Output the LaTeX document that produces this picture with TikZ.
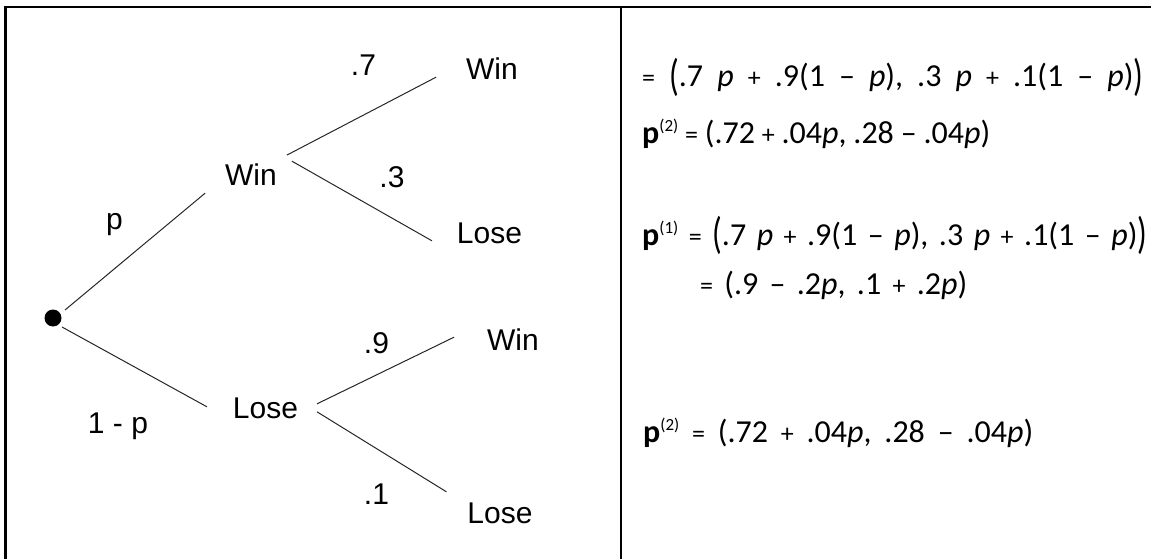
\documentclass[tikz,border=0pt]{standalone}
\usepackage{fontspec}
\usepackage{graphicx}
\setmainfont{Liberation Sans}
\newfontfamily\eqfont{Carlito}
\usetikzlibrary{calc}
\newcommand{\bigparen}[1]{\raisebox{-0.12em}{\scalebox{1}[1.38]{#1}}}
\newcommand{\vp}{\textit{p}}
\newcommand{\bp}{\textbf{p}}
\newcommand{\sups}[1]{\raisebox{12pt}{\fontsize{17}{20}\selectfont(#1)}}
\newcommand{\op}[1]{{\fontsize{26}{30}\selectfont #1}}
\newcommand{\gp}{\hskip 3pt plus 1fil\relax}
\begin{document}
\begin{tikzpicture}[x=1pt,y=-1pt,
  lbl/.style={font=\fontsize{30}{36}\selectfont, inner sep=0pt, outer sep=0pt, anchor=base},
  branch/.style={line width=1pt, black!85},
  eq/.style={font=\eqfont\fontsize{32}{38}\selectfont, inner sep=0pt, anchor=base west},
  rulew/.style={line width=2.4pt},
  dot/.style={circle, fill=black, minimum size=17pt, inner sep=0pt}]
\useasboundingbox (0,0) rectangle (1151,559);
\draw[rulew] (5.5,559) -- (5.5,7) -- (1151,7);
\draw[rulew] (621,7) -- (621,559);

% tree nodes
\node[dot] (root) at (53,318) {};
\node[lbl] (w1) at (251,185) {Win};
\node[lbl] (l1) at (265.5,418) {Lose};
\node[lbl] (ww) at (492,80) {Win};
\node[lbl] (wl) at (489.5,243) {Lose};
\node[lbl] (lw) at (513,350) {Win};
\node[lbl] (ll) at (500,523) {Lose};

% branches
\draw[branch] ($(root)+(12,-8)$) -- ($(w1.west)+(-20,19)$);
\draw[branch] ($(root)+(9,9)$) -- ($(l1.west)+(-26,-1)$);
\draw[branch] ($(w1.east)+(10,-19)$) -- ($(ww.west)+(-30,8)$);
\draw[branch] ($(w1.east)+(15,-13)$) -- ($(wl.west)+(-25,8)$);
\draw[branch] ($(l1.east)+(19,-4)$) -- ($(lw.west)+(-33,-2)$);
\draw[branch] ($(l1.east)+(19,4)$) -- ($(ll.west)+(-21,-21)$);

% branch labels
\node[lbl] (lp) at (114.5,229) {p};
\node[lbl] (lq) at (118,433.5) {1 - p};
\node[lbl] (l7) at (363.5,76) {.7};
\node[lbl] (l3) at (392,187) {.3};
\node[lbl] (l9) at (376.5,353) {.9};
\node[lbl] (l1b) at (376.5,504) {.1};

% equations
\node[eq] (e1) at (642,87) {\hbox to 501pt{\op{=}\gp\bigparen{(}.7\gp\vp\gp\op{+}\gp.9(1\gp–\gp\vp),\gp.3\gp\vp\gp\op{+}\gp.1(1\gp–\gp\vp)\bigparen{)}}};
\node[eq] (e2) at (642,143) {\hbox to 348pt{\bp\sups{2}\gp\op{=}\gp(.72\gp\op{+}\gp.04\vp,\gp.28\gp–\gp.04\vp)}};
\node[eq] (e3) at (642,245) {\hbox to 505pt{\bp\sups{1}\gp\op{=}\gp\bigparen{(}.7\gp\vp\gp\op{+}\gp.9(1\gp–\gp\vp),\gp.3\gp\vp\gp\op{+}\gp.1(1\gp–\gp\vp)\bigparen{)}}};
\node[eq] (e4) at (700,294) {\hbox to 267pt{\op{=}\gp(.9\gp–\gp.2\vp,\gp.1\gp\op{+}\gp.2\vp)}};
\node[eq] (e5) at (643,442) {\hbox to 390pt{\bp\sups{2}\gp\op{=}\gp(.72\gp\op{+}\gp.04\vp,\gp.28\gp–\gp.04\vp)}};
\end{tikzpicture}
\end{document}
